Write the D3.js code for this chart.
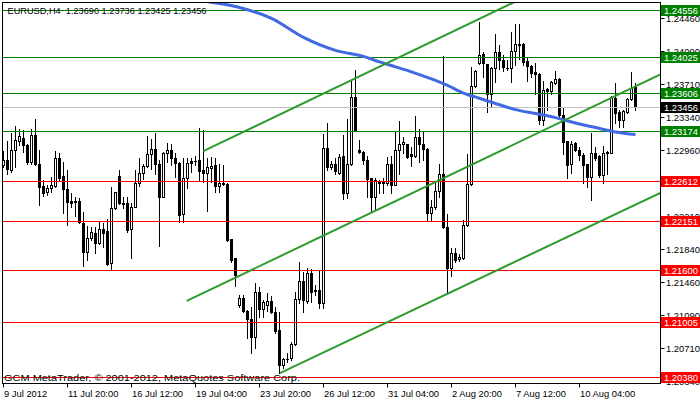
<!DOCTYPE html>
<html><head><meta charset="utf-8">
<script src="https://cdn.jsdelivr.net/npm/d3@7"></script>
<style>
html,body{margin:0;padding:0;background:#fff;overflow:hidden}
svg{display:block}
text{font-family:"Liberation Sans",Arial,sans-serif;font-size:9.4px}
</style>
</head><body>
<svg id="c" width="700" height="402"></svg>
<script>
const opens=[1.22796,1.22860,1.22739,1.22966,1.23072,1.23110,1.23023,1.22833,1.23136,1.22804,
1.22557,1.22492,1.22531,1.22557,1.22883,1.22671,1.22520,1.22390,1.22383,1.22387,
1.22140,1.21811,1.21963,1.22020,1.21913,1.22065,1.22046,1.21679,1.22304,1.22671,
1.22367,1.22360,1.22065,1.22322,1.22588,1.22708,1.22784,1.22921,1.22977,1.22815,
1.22435,1.22929,1.22966,1.22872,1.22818,1.22236,1.22645,1.22841,1.22841,1.22852,
1.22739,1.22708,1.22765,1.22796,1.22560,1.22588,1.22580,1.21952,1.21736,1.21205,
1.21281,1.21140,1.21050,1.20838,1.21350,1.21156,1.21205,1.21254,1.21122,1.20921,
1.20524,1.20595,1.20600,1.20762,1.21270,1.21478,1.21254,1.21565,1.21372,1.21376,
1.21225,1.22997,1.22776,1.22815,1.22708,1.22898,1.22474,1.22804,1.23572,1.22963,
1.22947,1.22860,1.22645,1.22435,1.22606,1.22606,1.22595,1.22815,1.22576,1.22966,
1.23034,1.23034,1.22921,1.22901,1.23117,1.23034,1.22985,1.22247,1.22315,1.22500,
1.22701,1.22095,1.21622,1.21792,1.21724,1.21736,1.22114,1.22580,1.23693,1.23958,
1.24065,1.23943,1.23610,1.23906,1.24083,1.23996,1.23906,1.23906,1.24094,1.24159,
1.24178,1.23977,1.23920,1.23856,1.23837,1.23315,1.23667,1.23640,1.23730,1.23780,
1.23364,1.23068,1.22804,1.23049,1.22966,1.22917,1.22807,1.22663,1.22929,1.22898,
1.22682,1.22929,1.22935,1.23565,1.23401,1.23315,1.23401,1.23553,1.23690];
const highs=[1.22955,1.23068,1.23163,1.23239,1.23212,1.23201,1.23042,1.23212,1.23326,1.22974,
1.22625,1.22568,1.22656,1.22958,1.22935,1.22833,1.22739,1.22474,1.22435,1.22417,
1.22258,1.22103,1.22095,1.22095,1.22152,1.22133,1.22179,1.22549,1.22486,1.22739,
1.22429,1.22435,1.22360,1.22739,1.22883,1.22815,1.23125,1.23099,1.23163,1.22852,
1.22947,1.23049,1.23034,1.22929,1.22833,1.22872,1.22872,1.22883,1.22898,1.23224,
1.23201,1.22872,1.22890,1.22883,1.22815,1.22796,1.22588,1.21960,1.21745,1.21319,
1.21319,1.21148,1.21186,1.21452,1.21413,1.21262,1.21338,1.21311,1.21186,1.21129,
1.20600,1.20656,1.20788,1.21350,1.21697,1.21584,1.21622,1.21611,1.21432,1.21603,
1.23156,1.23281,1.22844,1.22872,1.22921,1.23136,1.23326,1.23769,1.23883,1.23080,
1.22958,1.22898,1.22652,1.22645,1.22625,1.22645,1.22890,1.22898,1.23174,1.23299,
1.23117,1.23042,1.23004,1.23352,1.23212,1.23174,1.22997,1.22398,1.22606,1.22815,
1.24034,1.22239,1.21849,1.21849,1.21785,1.22171,1.22921,1.23912,1.23875,1.24424,
1.24083,1.23950,1.23912,1.24284,1.24159,1.24045,1.23988,1.24310,1.24405,1.24397,
1.24185,1.24015,1.23932,1.23958,1.23844,1.23753,1.23674,1.23750,1.23863,1.23785,
1.23458,1.23075,1.23072,1.23060,1.23004,1.22929,1.22815,1.23163,1.23004,1.22909,
1.23015,1.22955,1.23583,1.23730,1.23420,1.23420,1.23560,1.23856,1.23736];
const lows=[1.22770,1.22701,1.22720,1.22770,1.23023,1.22947,1.22815,1.22815,1.22796,1.22341,
1.22443,1.22455,1.22492,1.22549,1.22625,1.22254,1.22114,1.22322,1.22216,1.22133,
1.21652,1.21716,1.21944,1.21799,1.21898,1.21867,1.21660,1.21603,1.22299,1.22353,
1.22304,1.22038,1.21742,1.22318,1.22557,1.22637,1.22770,1.22747,1.22690,1.21879,
1.22429,1.22833,1.22796,1.22663,1.22152,1.22152,1.22531,1.22720,1.22796,1.22625,
1.22606,1.22276,1.22606,1.22492,1.22492,1.22568,1.21932,1.21697,1.21421,1.21186,
1.21129,1.20827,1.20663,1.20713,1.21072,1.21072,1.21140,1.21111,1.20884,1.20429,
1.20486,1.20561,1.20580,1.20751,1.21225,1.21129,1.21231,1.21243,1.21319,1.21168,
1.21168,1.22739,1.22758,1.22701,1.22701,1.22406,1.22417,1.22796,1.23185,1.22929,
1.22815,1.22435,1.22265,1.22284,1.22474,1.22481,1.22568,1.22474,1.22568,1.22693,
1.22935,1.22883,1.22784,1.22890,1.22833,1.22852,1.22163,1.22163,1.22292,1.22435,
1.22080,1.21338,1.21535,1.21697,1.21708,1.21724,1.22103,1.22568,1.23685,1.23951,
1.23799,1.23401,1.23466,1.23742,1.23894,1.23867,1.23875,1.23742,1.23932,1.24008,
1.23932,1.23753,1.23799,1.23602,1.23261,1.23250,1.23428,1.23602,1.23724,1.23344,
1.22921,1.22651,1.22708,1.22958,1.22860,1.22595,1.22549,1.22398,1.22860,1.22663,
1.22595,1.22701,1.22929,1.23276,1.23231,1.23231,1.23390,1.23534,1.23425];
const closes=[1.22860,1.22747,1.22966,1.23080,1.23125,1.23023,1.22833,1.23136,1.22804,1.22549,
1.22481,1.22531,1.22568,1.22883,1.22651,1.22520,1.22379,1.22367,1.22375,1.22152,
1.21811,1.21963,1.22031,1.21913,1.22065,1.22027,1.21671,1.22304,1.22486,1.22360,
1.22356,1.22057,1.22322,1.22588,1.22708,1.22784,1.22921,1.22977,1.22815,1.22435,
1.22929,1.22966,1.22875,1.22818,1.22228,1.22645,1.22826,1.22826,1.22849,1.22731,
1.22708,1.22770,1.22788,1.22557,1.22588,1.22580,1.21944,1.21716,1.21546,1.21281,
1.21140,1.21050,1.20838,1.21350,1.21156,1.21243,1.21251,1.21122,1.20913,1.20524,
1.20592,1.20588,1.20762,1.21270,1.21478,1.21262,1.21565,1.21356,1.21364,1.21225,
1.22997,1.22776,1.22815,1.22731,1.22890,1.22474,1.22804,1.23572,1.23193,1.22943,
1.22860,1.22633,1.22435,1.22625,1.22588,1.22588,1.22815,1.22576,1.22966,1.23042,
1.23060,1.22890,1.22898,1.23117,1.23042,1.22985,1.22247,1.22315,1.22500,1.22701,
1.22095,1.21622,1.21792,1.21716,1.21754,1.22114,1.22580,1.23693,1.23867,1.24045,
1.23958,1.23610,1.23906,1.24083,1.23996,1.23912,1.23898,1.24094,1.24170,1.24178,
1.23969,1.23920,1.23844,1.23837,1.23315,1.23656,1.23640,1.23742,1.23780,1.23364,
1.23060,1.22796,1.23042,1.22966,1.22909,1.22796,1.22663,1.22929,1.22879,1.22682,
1.22929,1.22947,1.23572,1.23390,1.23315,1.23409,1.23553,1.23674,1.23456];

const timeTickIdx=[0,16,32,48,64,80,96,112,128,144];
const timeLabels=["9 Jul 2012","11 Jul 20:00","16 Jul 12:00","19 Jul 04:00","23 Jul 20:00","26 Jul 12:00","31 Jul 04:00","2 Aug 20:00","7 Aug 12:00","10 Aug 04:00"];
const priceTicks=[1.24460,1.24090,1.23710,1.23340,1.22960,1.22210,1.21840,1.21460,1.21090,1.20710,1.20340];
const greenLevels=[1.24556,1.24025,1.23606,1.23174];
const redLevels=[1.22612,1.22151,1.21600,1.21005,1.20380];
const bidPrice=1.23456;

const maIdx=[47,50,54,59,67,75,83,90,94,98,102,107,111,115,119,124,128,133,138,143,148,153,158];
const maVals=[1.24693,1.24663,1.24636,1.24590,1.24466,1.24250,1.24102,1.24034,1.23971,1.23915,1.23858,1.23778,1.23704,1.23617,1.23557,1.23483,1.23428,1.23383,1.23337,1.23276,1.23224,1.23174,1.23144];

const chanStartIdx=[49.95,45.8,69.1];
const chanStartPrice=[1.22955,1.21251,1.20429];
const chanEndIdx=[123.7,164.2,164.2];
const chanEndPrice=[1.24564,1.23829,1.22481];

const titleText="EURUSD,H4\u00A0\u00A01.23690 1.23736 1.23425 1.23456";
const copyText="GCM MetaTrader, \u00A9 2001-2012, MetaQuotes Software Corp.";

const svg=d3.select("#c");
const L=2.5,R=660.5,T=2.5,B=383.5;
const x=d3.scaleLinear().domain([0,158]).range([3.5,635.5]);
const y=d3.scaleLinear().domain([1.20380,1.24556]).range([377.5,10.5]);
const py=p=>Math.floor(y(p))+0.5;

svg.append("rect").attr("width",700).attr("height",402).attr("fill","#fff");
svg.append("defs").append("clipPath").attr("id","plot")
  .append("rect").attr("x",L).attr("y",T).attr("width",R-L).attr("height",B-T);

const plot=svg.append("g").attr("clip-path","url(#plot)");

// candles
const cg=plot.append("g");
opens.forEach((o,i)=>{
  const h=highs[i],l=lows[i],c=closes[i];
  const cx=x(i);
  const yH=Math.round(y(h)), yL=Math.round(y(l));
  const yT=Math.round(y(Math.max(o,c))), yB=Math.round(y(Math.min(o,c)));
  cg.append("line").attr("x1",cx).attr("x2",cx).attr("y1",yH).attr("y2",yL+1)
    .attr("stroke","#000").attr("stroke-width",1);
  if(yB-yT<1){
    cg.append("line").attr("x1",cx-1.5).attr("x2",cx+1.5).attr("y1",yT+0.5).attr("y2",yT+0.5)
      .attr("stroke","#000").attr("stroke-width",1);
  } else if(c>=o){
    cg.append("rect").attr("x",cx-1).attr("y",yT+0.5).attr("width",2).attr("height",yB-yT)
      .attr("fill","#fff").attr("stroke","#000").attr("stroke-width",1);
  } else {
    cg.append("rect").attr("x",cx-1.5).attr("y",yT).attr("width",3).attr("height",yB-yT+1)
      .attr("fill","#000");
  }
});

// horizontal levels
const lg=plot.append("g");
lg.append("line").attr("x1",L).attr("x2",R).attr("y1",py(bidPrice)).attr("y2",py(bidPrice))
  .attr("stroke","#c0c0c0").attr("stroke-width",1);
greenLevels.forEach(p=>lg.append("line").attr("x1",L).attr("x2",R).attr("y1",py(p)).attr("y2",py(p))
  .attr("stroke","#008000").attr("stroke-width",1));
redLevels.forEach(p=>lg.append("line").attr("x1",L).attr("x2",R).attr("y1",py(p)).attr("y2",py(p))
  .attr("stroke","#ff0000").attr("stroke-width",1));

// moving average
const maPts=maIdx.map((d,i)=>[d,maVals[i]]);
plot.append("path").datum(maPts)
  .attr("d",d3.line().x(d=>x(d[0])).y(d=>y(d[1])).curve(d3.curveMonotoneX))
  .attr("fill","none").attr("stroke","#4169e1").attr("stroke-width",3);

// channel (rays extended to the right edge)
chanStartIdx.forEach((s,k)=>{
  const x1=x(s),y1=y(chanStartPrice[k]),x2=x(chanEndIdx[k]),y2=y(chanEndPrice[k]);
  const xe=R+2, ye=y1+(y2-y1)*(xe-x1)/(x2-x1);
  plot.append("line").attr("x1",x1).attr("y1",y1).attr("x2",xe).attr("y2",ye)
    .attr("stroke","#2e9b2e").attr("stroke-width",2);
});

// frame
svg.append("rect").attr("x",L).attr("y",T).attr("width",R-L).attr("height",B-T)
  .attr("fill","none").attr("stroke","#000").attr("stroke-width",1);

// texts inside plot
svg.append("text").attr("x",7.5).attr("y",14).attr("fill","#000")
  .attr("textLength",199).attr("lengthAdjust","spacingAndGlyphs").text(titleText);
svg.append("text").attr("x",4).attr("y",380.5).attr("fill","#000")
  .attr("textLength",296).attr("lengthAdjust","spacingAndGlyphs").text(copyText);

// right price axis
const ag=svg.append("g");
priceTicks.forEach(p=>{
  const yy=py(p);
  ag.append("line").attr("x1",R).attr("x2",R+4).attr("y1",yy).attr("y2",yy).attr("stroke","#000");
  ag.append("text").attr("x",666).attr("y",yy+3.5).attr("fill","#000").text(p.toFixed(5));
});
function levelBox(p,col){
  const yy=py(p);
  ag.append("rect").attr("x",661).attr("y",yy-5.5).attr("width",39).attr("height",11).attr("fill",col);
  ag.append("text").attr("x",664).attr("y",yy+3.5).attr("fill","#fff").text(p.toFixed(5));
}
greenLevels.forEach(p=>levelBox(p,"#008000"));
redLevels.forEach(p=>levelBox(p,"#ff0000"));
levelBox(bidPrice,"#000000");

// time axis
timeTickIdx.forEach((ti,k)=>{
  const xx=Math.floor(x(ti))+0.5;
  ag.append("line").attr("x1",xx).attr("x2",xx).attr("y1",B).attr("y2",B+4).attr("stroke","#000");
  ag.append("text").attr("x",xx+0.5).attr("y",397).attr("fill","#000").text(timeLabels[k]);
});
</script>
</body></html>
